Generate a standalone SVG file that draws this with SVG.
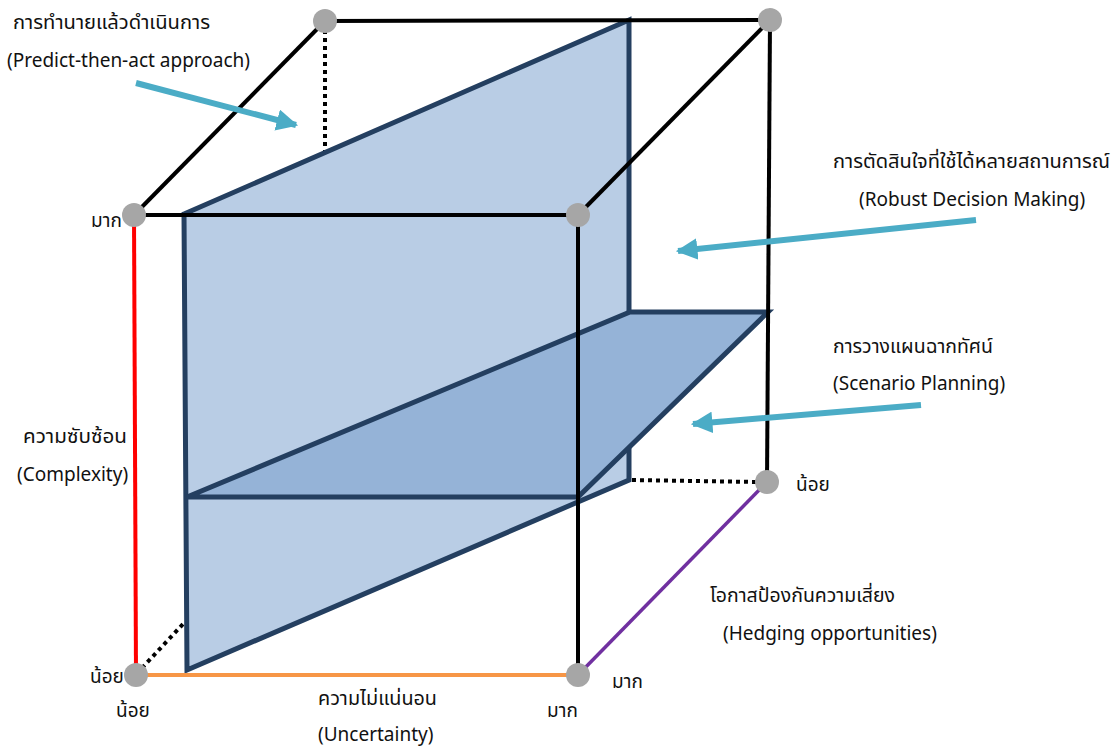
<svg xmlns="http://www.w3.org/2000/svg" width="1115" height="746" viewBox="0 0 1115 746">
<defs>
<style>
.t{font-family:"Noto Sans","Noto Sans Thai","Liberation Sans",sans-serif;font-size:19px;fill:#111}
.e{stroke:#000;stroke-width:4;fill:none}
.d{stroke:#000;stroke-width:4;fill:none;stroke-dasharray:4 4}
.p1{fill:#B9CDE5;stroke:#243F60;stroke-width:5;stroke-linejoin:miter}
.p2{fill:#95B3D7;stroke:#243F60;stroke-width:5;stroke-linejoin:miter}
.a{stroke:#4BACC6;stroke-width:6;fill:none}
.n{fill:#A6A6A6}
</style>
<marker id="ah" viewBox="0 0 10 10" refX="9" refY="5" markerWidth="3.6" markerHeight="3.6" orient="auto" markerUnits="strokeWidth">
<path d="M0,0 L10,5 L0,10 z" fill="#4BACC6"/>
</marker>
</defs>
<rect width="1115" height="746" fill="#fff"/>
<g id="hidden-edges">
<line class="d" x1="325" y1="30" x2="325" y2="152"/>
<line class="d" x1="142" y1="668" x2="183" y2="624"/>
<line class="d" x1="632" y1="480" x2="758" y2="482"/>
</g>
<g id="panel-vertical">
<polygon class="p1" points="184,214 629,20 629,480 187,670"/>
</g>
<g id="panel-horizontal">
<polygon class="p2" points="187,497 630,312 768,312 578,497"/>
</g>
<g id="connectors">
<line class="e" x1="134" y1="215" x2="578" y2="215"/>
<line class="e" x1="134" y1="215" x2="325" y2="21"/>
<line class="e" x1="325" y1="21" x2="770" y2="20"/>
<line class="e" x1="578" y1="215" x2="770" y2="20"/>
<line class="e" x1="770" y1="20" x2="767" y2="482"/>
<line class="e" x1="578" y1="215" x2="578" y2="675"/>
<line x1="134" y1="215" x2="136" y2="675" stroke="#FF0000" stroke-width="4"/>
<line x1="136" y1="675" x2="578" y2="675" stroke="#F79646" stroke-width="4"/>
<line x1="578" y1="675" x2="767" y2="482" stroke="#7030A0" stroke-width="3.5"/>
</g>
<g id="arrows">
<line class="a" x1="136" y1="83" x2="296" y2="125" marker-end="url(#ah)"/>
<line class="a" x1="976" y1="220" x2="678" y2="251" marker-end="url(#ah)"/>
<line class="a" x1="921" y1="405" x2="693" y2="424" marker-end="url(#ah)"/>
</g>
<g id="node-ftl"><circle class="n" cx="134" cy="215" r="12"/><text class="t" x="91" y="227">มาก</text></g>
<g id="node-ftr"><circle class="n" cx="578" cy="215" r="12"/></g>
<g id="node-btl"><circle class="n" cx="325" cy="21" r="12"/></g>
<g id="node-btr"><circle class="n" cx="770" cy="20" r="12"/></g>
<g id="node-fbl"><circle class="n" cx="136" cy="675" r="12"/><text class="t" x="90" y="683">น้อย</text><text class="t" x="116" y="717">น้อย</text></g>
<g id="node-fbr"><circle class="n" cx="578" cy="675" r="12"/><text class="t" x="547" y="717">มาก</text><text class="t" x="612" y="688">มาก</text></g>
<g id="node-bbr"><circle class="n" cx="767" cy="482" r="12"/><text class="t" x="796" y="491">น้อย</text></g>
<g id="labels">
<text class="t" x="13" y="29" textLength="197" lengthAdjust="spacingAndGlyphs">การทำนายแล้วดำเนินการ</text>
<text class="t" x="7" y="67">(Predict-then-act approach)</text>
<text class="t" x="833" y="168" textLength="277" lengthAdjust="spacingAndGlyphs">การตัดสินใจที่ใช้ได้หลายสถานการณ์</text>
<text class="t" x="859" y="206">(Robust Decision Making)</text>
<text class="t" x="833" y="353" textLength="160" lengthAdjust="spacingAndGlyphs">การวางแผนฉากทัศน์</text>
<text class="t" x="833" y="390">(Scenario Planning)</text>
<text class="t" x="23" y="443" textLength="104" lengthAdjust="spacingAndGlyphs">ความซับซ้อน</text>
<text class="t" x="17" y="481">(Complexity)</text>
<text class="t" x="318" y="705" textLength="119" lengthAdjust="spacingAndGlyphs">ความไม่แน่นอน</text>
<text class="t" x="318" y="741">(Uncertainty)</text>
<text class="t" x="710" y="602" textLength="185" lengthAdjust="spacingAndGlyphs">โอกาสป้องกันความเสี่ยง</text>
<text class="t" x="723" y="640">(Hedging opportunities)</text>
</g>
</svg>
